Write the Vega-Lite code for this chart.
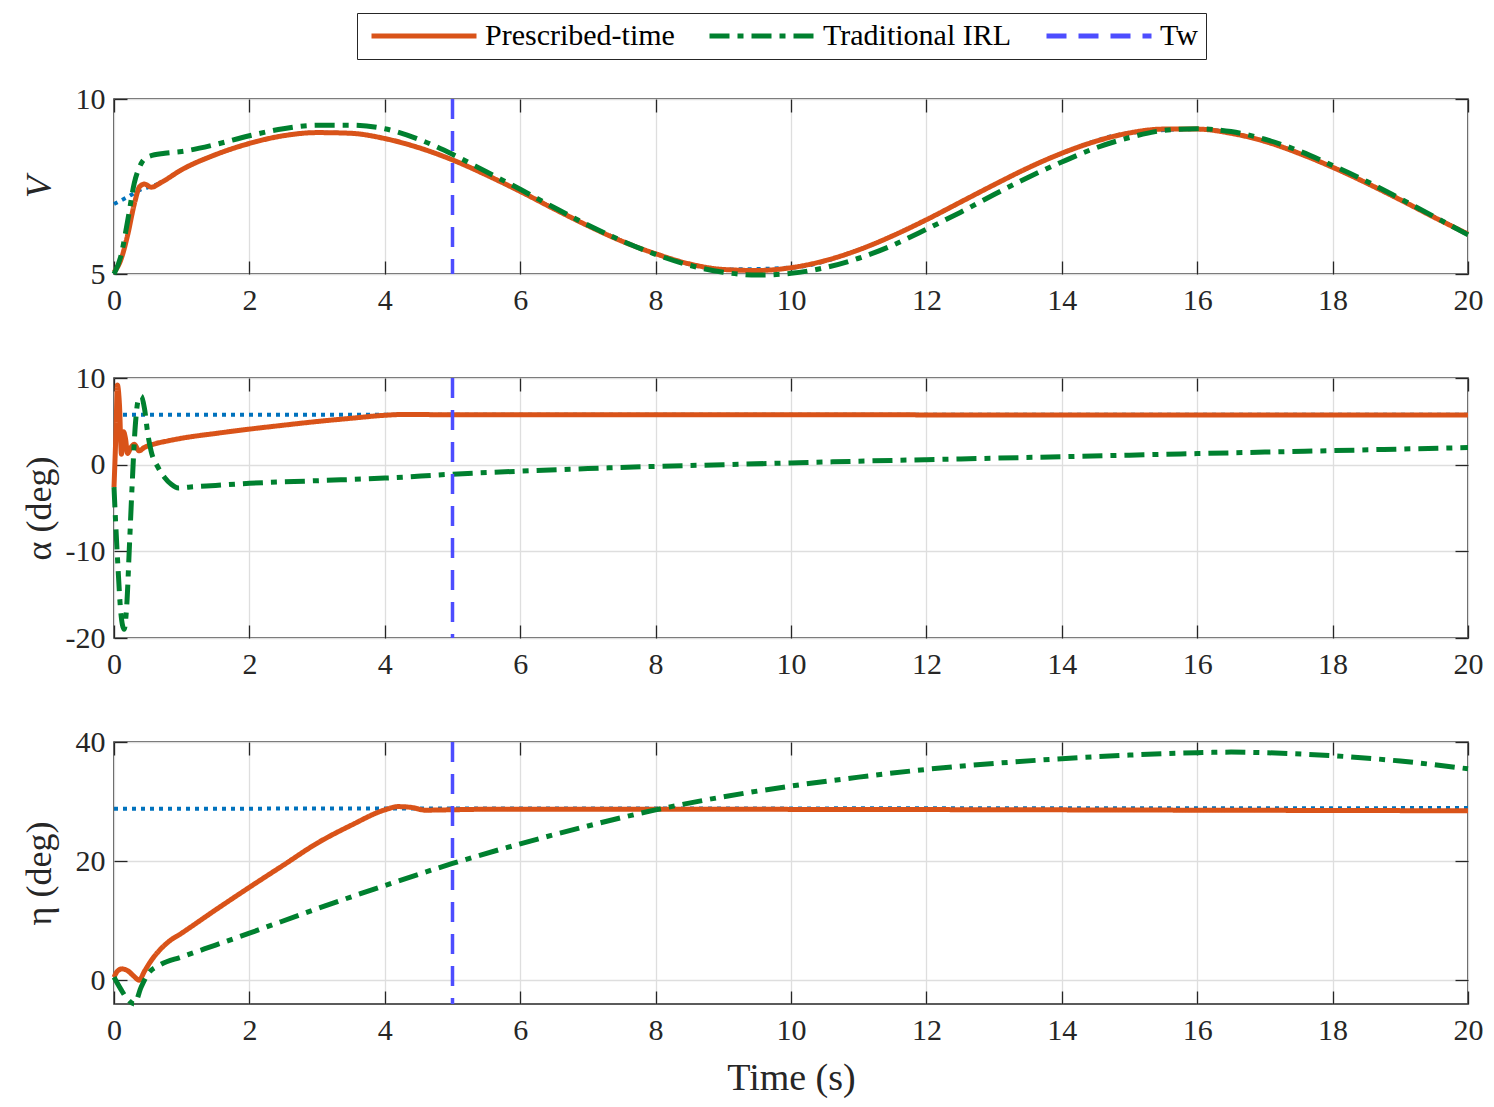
{
  "$schema": "https://vega.github.io/schema/vega-lite/v6.json",
  "padding": {"left": 20, "top": 12, "right": 10, "bottom": 10},
  "bounds": "flush",
  "spacing": 104,
  "config": {
    "font": "Liberation Serif",
    "view": {"stroke": "#262626", "strokeWidth": 1.5},
    "axis": {
      "labelFont": "Liberation Serif",
      "labelFontSize": 30,
      "labelColor": "#262626",
      "labelFlush": false,
      "titleFont": "Liberation Serif",
      "titleFontSize": 36,
      "titleFontWeight": "normal",
      "titleColor": "#262626",
      "tickColor": "#262626",
      "tickSize": -13,
      "tickWidth": 1.3,
      "domain": false,
      "gridColor": "#dedede",
      "gridWidth": 1.3,
      "labelExpr": "'' + datum.value"
    },
    "axisX": {"labelPadding": 24, "labelAngle": 0, "titlePadding": 14},
    "axisY": {"labelPadding": 22, "titlePadding": 6},
    "legend": {
      "orient": "none",
      "legendX": 243,
      "legendY": -86,
      "direction": "horizontal",
      "title": null,
      "symbolType": "M-5,0H5",
      "symbolSize": 441,
      "symbolOffset": 44,
      "symbolStrokeWidth": 5,
      "labelFont": "Liberation Serif",
      "labelFontSize": 30,
      "labelLimit": 500,
      "labelColor": "#000000",
      "labelOffset": 46,
      "columnPadding": 24,
      "padding": 8,
      "strokeColor": "#262626",
      "fillColor": "#ffffff"
    }
  },
  "resolve": {"scale": {"color": "shared", "strokeDash": "shared"}},
  "datasets": {
    "v1": [
      {"t": 0, "y": 5.05, "s": "Prescribed-time"}, {"t": 0.1, "y": 5.4, "s": "Prescribed-time"}, {"t": 0.2, "y": 6.1, "s": "Prescribed-time"}, {"t": 0.3, "y": 7.0, "s": "Prescribed-time"}, {"t": 0.38, "y": 7.5, "s": "Prescribed-time"}, {"t": 0.45, "y": 7.57, "s": "Prescribed-time"}, {"t": 0.55, "y": 7.48, "s": "Prescribed-time"}, {"t": 0.7, "y": 7.62, "s": "Prescribed-time"}, {"t": 1, "y": 7.98, "s": "Prescribed-time"}, {"t": 1.5, "y": 8.41, "s": "Prescribed-time"}, {"t": 2, "y": 8.73, "s": "Prescribed-time"}, {"t": 2.5, "y": 8.95, "s": "Prescribed-time"}, {"t": 3, "y": 9.04, "s": "Prescribed-time"}, {"t": 3.5, "y": 9.02, "s": "Prescribed-time"}, {"t": 4, "y": 8.87, "s": "Prescribed-time"}, {"t": 4.5, "y": 8.61, "s": "Prescribed-time"}, {"t": 5, "y": 8.26, "s": "Prescribed-time"}, {"t": 5.5, "y": 7.83, "s": "Prescribed-time"}, {"t": 6, "y": 7.36, "s": "Prescribed-time"}, {"t": 6.5, "y": 6.86, "s": "Prescribed-time"}, {"t": 7, "y": 6.38, "s": "Prescribed-time"}, {"t": 7.5, "y": 5.94, "s": "Prescribed-time"}, {"t": 8, "y": 5.58, "s": "Prescribed-time"}, {"t": 8.5, "y": 5.29, "s": "Prescribed-time"}, {"t": 9, "y": 5.13, "s": "Prescribed-time"}, {"t": 9.5, "y": 5.1, "s": "Prescribed-time"}, {"t": 10, "y": 5.18, "s": "Prescribed-time"}, {"t": 10.5, "y": 5.38, "s": "Prescribed-time"}, {"t": 11, "y": 5.69, "s": "Prescribed-time"}, {"t": 11.5, "y": 6.09, "s": "Prescribed-time"}, {"t": 12, "y": 6.55, "s": "Prescribed-time"}, {"t": 12.5, "y": 7.05, "s": "Prescribed-time"}, {"t": 13, "y": 7.55, "s": "Prescribed-time"}, {"t": 13.5, "y": 8.03, "s": "Prescribed-time"}, {"t": 14, "y": 8.45, "s": "Prescribed-time"}, {"t": 14.5, "y": 8.79, "s": "Prescribed-time"}, {"t": 15, "y": 9.03, "s": "Prescribed-time"}, {"t": 15.5, "y": 9.14, "s": "Prescribed-time"}, {"t": 16, "y": 9.14, "s": "Prescribed-time"}, {"t": 16.5, "y": 9.02, "s": "Prescribed-time"}, {"t": 17, "y": 8.79, "s": "Prescribed-time"}, {"t": 17.5, "y": 8.45, "s": "Prescribed-time"}, {"t": 18, "y": 8.05, "s": "Prescribed-time"}, {"t": 18.5, "y": 7.6, "s": "Prescribed-time"}, {"t": 19, "y": 7.12, "s": "Prescribed-time"}, {"t": 19.5, "y": 6.62, "s": "Prescribed-time"}, {"t": 20, "y": 6.14, "s": "Prescribed-time"},
      {"t": 0, "y": 5.0, "s": "Traditional IRL"}, {"t": 0.1, "y": 5.5, "s": "Traditional IRL"}, {"t": 0.2, "y": 6.5, "s": "Traditional IRL"}, {"t": 0.3, "y": 7.6, "s": "Traditional IRL"}, {"t": 0.4, "y": 8.15, "s": "Traditional IRL"}, {"t": 0.5, "y": 8.35, "s": "Traditional IRL"}, {"t": 0.75, "y": 8.45, "s": "Traditional IRL"}, {"t": 1, "y": 8.5, "s": "Traditional IRL"}, {"t": 1.5, "y": 8.7, "s": "Traditional IRL"}, {"t": 2, "y": 8.95, "s": "Traditional IRL"}, {"t": 2.5, "y": 9.15, "s": "Traditional IRL"}, {"t": 3, "y": 9.25, "s": "Traditional IRL"}, {"t": 3.5, "y": 9.25, "s": "Traditional IRL"}, {"t": 4, "y": 9.15, "s": "Traditional IRL"}, {"t": 4.5, "y": 8.85, "s": "Traditional IRL"}, {"t": 5, "y": 8.42, "s": "Traditional IRL"}, {"t": 5.5, "y": 7.92, "s": "Traditional IRL"}, {"t": 6, "y": 7.42, "s": "Traditional IRL"}, {"t": 6.5, "y": 6.9, "s": "Traditional IRL"}, {"t": 7, "y": 6.4, "s": "Traditional IRL"}, {"t": 7.5, "y": 5.95, "s": "Traditional IRL"}, {"t": 8, "y": 5.56, "s": "Traditional IRL"}, {"t": 8.5, "y": 5.25, "s": "Traditional IRL"}, {"t": 9, "y": 5.05, "s": "Traditional IRL"}, {"t": 9.5, "y": 4.97, "s": "Traditional IRL"}, {"t": 10, "y": 5.02, "s": "Traditional IRL"}, {"t": 10.5, "y": 5.18, "s": "Traditional IRL"}, {"t": 11, "y": 5.45, "s": "Traditional IRL"}, {"t": 11.5, "y": 5.82, "s": "Traditional IRL"}, {"t": 12, "y": 6.28, "s": "Traditional IRL"}, {"t": 12.5, "y": 6.76, "s": "Traditional IRL"}, {"t": 13, "y": 7.27, "s": "Traditional IRL"}, {"t": 13.5, "y": 7.76, "s": "Traditional IRL"}, {"t": 14, "y": 8.2, "s": "Traditional IRL"}, {"t": 14.5, "y": 8.6, "s": "Traditional IRL"}, {"t": 15, "y": 8.9, "s": "Traditional IRL"}, {"t": 15.5, "y": 9.1, "s": "Traditional IRL"}, {"t": 16, "y": 9.15, "s": "Traditional IRL"}, {"t": 16.5, "y": 9.07, "s": "Traditional IRL"}, {"t": 17, "y": 8.85, "s": "Traditional IRL"}, {"t": 17.5, "y": 8.52, "s": "Traditional IRL"}, {"t": 18, "y": 8.1, "s": "Traditional IRL"}, {"t": 18.5, "y": 7.65, "s": "Traditional IRL"}, {"t": 19, "y": 7.15, "s": "Traditional IRL"}, {"t": 19.5, "y": 6.64, "s": "Traditional IRL"}, {"t": 20, "y": 6.12, "s": "Traditional IRL"},
      {"t": 0, "y": 7.0, "s": "ref"}, {"t": 0.2, "y": 7.2, "s": "ref"}, {"t": 0.4, "y": 7.42, "s": "ref"}, {"t": 0.55, "y": 7.5, "s": "ref"}, {"t": 0.7, "y": 7.62, "s": "ref"}, {"t": 1, "y": 7.98, "s": "ref"}, {"t": 1.5, "y": 8.41, "s": "ref"}, {"t": 2, "y": 8.73, "s": "ref"}, {"t": 2.5, "y": 8.95, "s": "ref"}, {"t": 3, "y": 9.04, "s": "ref"}, {"t": 3.5, "y": 9.02, "s": "ref"}, {"t": 4, "y": 8.87, "s": "ref"}, {"t": 4.5, "y": 8.61, "s": "ref"}, {"t": 5, "y": 8.26, "s": "ref"}, {"t": 6, "y": 7.36, "s": "ref"}, {"t": 7, "y": 6.38, "s": "ref"}, {"t": 8, "y": 5.58, "s": "ref"}, {"t": 9, "y": 5.13, "s": "ref"}, {"t": 10, "y": 5.18, "s": "ref"}, {"t": 11, "y": 5.69, "s": "ref"}, {"t": 12, "y": 6.55, "s": "ref"}, {"t": 13, "y": 7.55, "s": "ref"}, {"t": 14, "y": 8.45, "s": "ref"}, {"t": 15, "y": 9.03, "s": "ref"}, {"t": 16, "y": 9.14, "s": "ref"}, {"t": 17, "y": 8.79, "s": "ref"}, {"t": 18, "y": 8.05, "s": "ref"}, {"t": 19, "y": 7.12, "s": "ref"}, {"t": 20, "y": 6.14, "s": "ref"}
    ],
    "v2": [
      {"t": 0, "y": -2.6, "s": "Prescribed-time"}, {"t": 0.03, "y": 4, "s": "Prescribed-time"}, {"t": 0.05, "y": 9.2, "s": "Prescribed-time"}, {"t": 0.08, "y": 7, "s": "Prescribed-time"}, {"t": 0.11, "y": 1.2, "s": "Prescribed-time"}, {"t": 0.14, "y": 3.8, "s": "Prescribed-time"}, {"t": 0.17, "y": 3.0, "s": "Prescribed-time"}, {"t": 0.2, "y": 1.3, "s": "Prescribed-time"}, {"t": 0.25, "y": 2.0, "s": "Prescribed-time"}, {"t": 0.3, "y": 2.35, "s": "Prescribed-time"}, {"t": 0.37, "y": 1.6, "s": "Prescribed-time"}, {"t": 0.45, "y": 2.0, "s": "Prescribed-time"}, {"t": 0.6, "y": 2.4, "s": "Prescribed-time"}, {"t": 0.8, "y": 2.75, "s": "Prescribed-time"}, {"t": 1, "y": 3.05, "s": "Prescribed-time"}, {"t": 1.5, "y": 3.6, "s": "Prescribed-time"}, {"t": 2, "y": 4.1, "s": "Prescribed-time"}, {"t": 2.5, "y": 4.55, "s": "Prescribed-time"}, {"t": 3, "y": 4.98, "s": "Prescribed-time"}, {"t": 3.5, "y": 5.35, "s": "Prescribed-time"}, {"t": 4, "y": 5.7, "s": "Prescribed-time"}, {"t": 4.3, "y": 5.8, "s": "Prescribed-time"}, {"t": 5, "y": 5.75, "s": "Prescribed-time"}, {"t": 10, "y": 5.75, "s": "Prescribed-time"}, {"t": 15, "y": 5.73, "s": "Prescribed-time"}, {"t": 20, "y": 5.72, "s": "Prescribed-time"},
      {"t": 0, "y": -2.6, "s": "Traditional IRL"}, {"t": 0.02, "y": -6, "s": "Traditional IRL"}, {"t": 0.06, "y": -12, "s": "Traditional IRL"}, {"t": 0.1, "y": -17, "s": "Traditional IRL"}, {"t": 0.15, "y": -19, "s": "Traditional IRL"}, {"t": 0.19, "y": -16, "s": "Traditional IRL"}, {"t": 0.23, "y": -9, "s": "Traditional IRL"}, {"t": 0.27, "y": -2, "s": "Traditional IRL"}, {"t": 0.31, "y": 4, "s": "Traditional IRL"}, {"t": 0.36, "y": 7.5, "s": "Traditional IRL"}, {"t": 0.4, "y": 7.9, "s": "Traditional IRL"}, {"t": 0.45, "y": 6.5, "s": "Traditional IRL"}, {"t": 0.5, "y": 3.5, "s": "Traditional IRL"}, {"t": 0.55, "y": 1.5, "s": "Traditional IRL"}, {"t": 0.65, "y": -0.3, "s": "Traditional IRL"}, {"t": 0.75, "y": -1.5, "s": "Traditional IRL"}, {"t": 0.85, "y": -2.3, "s": "Traditional IRL"}, {"t": 0.95, "y": -2.7, "s": "Traditional IRL"}, {"t": 1.1, "y": -2.6, "s": "Traditional IRL"}, {"t": 1.5, "y": -2.4, "s": "Traditional IRL"}, {"t": 2, "y": -2.15, "s": "Traditional IRL"}, {"t": 3, "y": -1.85, "s": "Traditional IRL"}, {"t": 4, "y": -1.55, "s": "Traditional IRL"}, {"t": 5, "y": -1.1, "s": "Traditional IRL"}, {"t": 6, "y": -0.75, "s": "Traditional IRL"}, {"t": 7, "y": -0.45, "s": "Traditional IRL"}, {"t": 8, "y": -0.2, "s": "Traditional IRL"}, {"t": 9, "y": 0.0, "s": "Traditional IRL"}, {"t": 10, "y": 0.2, "s": "Traditional IRL"}, {"t": 11, "y": 0.4, "s": "Traditional IRL"}, {"t": 12, "y": 0.58, "s": "Traditional IRL"}, {"t": 13, "y": 0.75, "s": "Traditional IRL"}, {"t": 14, "y": 0.92, "s": "Traditional IRL"}, {"t": 15, "y": 1.1, "s": "Traditional IRL"}, {"t": 16, "y": 1.28, "s": "Traditional IRL"}, {"t": 17, "y": 1.45, "s": "Traditional IRL"}, {"t": 18, "y": 1.62, "s": "Traditional IRL"}, {"t": 19, "y": 1.8, "s": "Traditional IRL"}, {"t": 20, "y": 1.97, "s": "Traditional IRL"},
      {"t": 0, "y": 5.75, "s": "ref"}, {"t": 20, "y": 5.75, "s": "ref"}
    ],
    "v3": [
      {"t": 0, "y": 0.5, "s": "Prescribed-time"}, {"t": 0.05, "y": 1.5, "s": "Prescribed-time"}, {"t": 0.12, "y": 1.9, "s": "Prescribed-time"}, {"t": 0.2, "y": 1.6, "s": "Prescribed-time"}, {"t": 0.3, "y": 0.6, "s": "Prescribed-time"}, {"t": 0.37, "y": 0.0, "s": "Prescribed-time"}, {"t": 0.45, "y": 1.5, "s": "Prescribed-time"}, {"t": 0.55, "y": 3.3, "s": "Prescribed-time"}, {"t": 0.67, "y": 5.0, "s": "Prescribed-time"}, {"t": 0.8, "y": 6.4, "s": "Prescribed-time"}, {"t": 1, "y": 7.9, "s": "Prescribed-time"}, {"t": 1.5, "y": 11.8, "s": "Prescribed-time"}, {"t": 2, "y": 15.6, "s": "Prescribed-time"}, {"t": 2.5, "y": 19.3, "s": "Prescribed-time"}, {"t": 3, "y": 23.0, "s": "Prescribed-time"}, {"t": 3.5, "y": 26.0, "s": "Prescribed-time"}, {"t": 4, "y": 28.6, "s": "Prescribed-time"}, {"t": 4.2, "y": 29.15, "s": "Prescribed-time"}, {"t": 4.4, "y": 29.0, "s": "Prescribed-time"}, {"t": 4.6, "y": 28.55, "s": "Prescribed-time"}, {"t": 4.9, "y": 28.6, "s": "Prescribed-time"}, {"t": 5.5, "y": 28.7, "s": "Prescribed-time"}, {"t": 8, "y": 28.7, "s": "Prescribed-time"}, {"t": 12, "y": 28.65, "s": "Prescribed-time"}, {"t": 16, "y": 28.55, "s": "Prescribed-time"}, {"t": 20, "y": 28.45, "s": "Prescribed-time"},
      {"t": 0, "y": 0.5, "s": "Traditional IRL"}, {"t": 0.1, "y": -1.5, "s": "Traditional IRL"}, {"t": 0.2, "y": -3.2, "s": "Traditional IRL"}, {"t": 0.3, "y": -4.0, "s": "Traditional IRL"}, {"t": 0.4, "y": -1.2, "s": "Traditional IRL"}, {"t": 0.5, "y": 1.0, "s": "Traditional IRL"}, {"t": 0.67, "y": 2.5, "s": "Traditional IRL"}, {"t": 1, "y": 3.9, "s": "Traditional IRL"}, {"t": 1.5, "y": 5.9, "s": "Traditional IRL"}, {"t": 2, "y": 7.9, "s": "Traditional IRL"}, {"t": 3, "y": 12.0, "s": "Traditional IRL"}, {"t": 4, "y": 15.9, "s": "Traditional IRL"}, {"t": 5, "y": 19.6, "s": "Traditional IRL"}, {"t": 6, "y": 22.9, "s": "Traditional IRL"}, {"t": 7, "y": 25.9, "s": "Traditional IRL"}, {"t": 8, "y": 28.6, "s": "Traditional IRL"}, {"t": 9, "y": 30.8, "s": "Traditional IRL"}, {"t": 10, "y": 32.6, "s": "Traditional IRL"}, {"t": 11, "y": 34.1, "s": "Traditional IRL"}, {"t": 12, "y": 35.4, "s": "Traditional IRL"}, {"t": 13, "y": 36.4, "s": "Traditional IRL"}, {"t": 14, "y": 37.2, "s": "Traditional IRL"}, {"t": 15, "y": 37.8, "s": "Traditional IRL"}, {"t": 16, "y": 38.2, "s": "Traditional IRL"}, {"t": 16.5, "y": 38.3, "s": "Traditional IRL"}, {"t": 17, "y": 38.2, "s": "Traditional IRL"}, {"t": 18, "y": 37.7, "s": "Traditional IRL"}, {"t": 19, "y": 36.8, "s": "Traditional IRL"}, {"t": 20, "y": 35.5, "s": "Traditional IRL"},
      {"t": 0, "y": 28.8, "s": "ref"}, {"t": 20, "y": 28.9, "s": "ref"}
    ],
    "tw": [{"t": 5, "s": "Tw"}]
  },
  "vconcat": [
    {
      "width": 1354,
      "height": 175,
      "data": {"name": "v1"},
      "layer": [
        {
          "transform": [{"filter": "datum.s === 'ref'"}],
          "mark": {"type": "line", "color": "#0072BD", "strokeWidth": 4, "strokeDash": [4, 5], "interpolate": "monotone"},
          "encoding": {
            "x": {"field": "t", "type": "quantitative", "scale": {"domain": [0, 20], "nice": false}, "axis": {"values": [0, 2, 4, 6, 8, 10, 12, 14, 16, 18, 20], "grid": true, "title": null}},
            "y": {"field": "y", "type": "quantitative", "scale": {"domain": [5, 10], "nice": false, "zero": false}, "axis": {"values": [5, 10], "grid": true, "title": "V", "titleFontStyle": "italic", "minExtent": 50, "maxExtent": 50}}
          }
        },
        {
          "transform": [{"filter": "datum.s !== 'ref'"}],
          "mark": {"type": "line", "strokeWidth": 5, "interpolate": "monotone"},
          "encoding": {
            "x": {"field": "t", "type": "quantitative", "axis": null},
            "y": {"field": "y", "type": "quantitative", "axis": null},
            "color": {"field": "s", "type": "nominal", "scale": {"domain": ["Prescribed-time", "Traditional IRL", "Tw"], "range": ["#D95319", "#00802F", "#4D4DFF"]}},
            "strokeDash": {"field": "s", "type": "nominal", "scale": {"domain": ["Prescribed-time", "Traditional IRL", "Tw"], "range": [[1, 0], [20, 8, 6, 8], [20, 12]]}}
          }
        },
        {
          "data": {"name": "tw"},
          "mark": {"type": "rule", "strokeWidth": 3.5},
          "encoding": {
            "x": {"field": "t", "type": "quantitative", "axis": null},
            "color": {"field": "s", "type": "nominal"},
            "strokeDash": {"field": "s", "type": "nominal"}
          }
        },
        {
          "transform": [{"filter": "datum.s === 'ref'"}],
          "mark": {"type": "line", "opacity": 0},
          "encoding": {
            "x": {"field": "t", "type": "quantitative", "axis": {"orient": "top", "values": [0, 2, 4, 6, 8, 10, 12, 14, 16, 18, 20], "labels": false, "grid": false, "title": null}},
            "y": {"field": "y", "type": "quantitative", "axis": {"orient": "right", "values": [5, 10], "labels": false, "grid": false, "title": null}}
          }
        }
      ],
      "resolve": {"axis": {"x": "independent", "y": "independent"}}
    },
    {
      "width": 1354,
      "height": 260,
      "data": {"name": "v2"},
      "layer": [
        {
          "transform": [{"filter": "datum.s === 'ref'"}],
          "mark": {"type": "line", "color": "#0072BD", "strokeWidth": 4, "strokeDash": [4, 5]},
          "encoding": {
            "x": {"field": "t", "type": "quantitative", "scale": {"domain": [0, 20], "nice": false}, "axis": {"values": [0, 2, 4, 6, 8, 10, 12, 14, 16, 18, 20], "grid": true, "title": null}},
            "y": {"field": "y", "type": "quantitative", "scale": {"domain": [-20, 10], "nice": false, "zero": false}, "axis": {"values": [-20, -10, 0, 10], "grid": true, "title": "α (deg)", "minExtent": 50, "maxExtent": 50}}
          }
        },
        {
          "transform": [{"filter": "datum.s !== 'ref'"}],
          "mark": {"type": "line", "strokeWidth": 5, "interpolate": "monotone"},
          "encoding": {
            "x": {"field": "t", "type": "quantitative", "axis": null},
            "y": {"field": "y", "type": "quantitative", "axis": null},
            "color": {"field": "s", "type": "nominal"},
            "strokeDash": {"field": "s", "type": "nominal"}
          }
        },
        {
          "data": {"name": "tw"},
          "mark": {"type": "rule", "strokeWidth": 3.5},
          "encoding": {
            "x": {"field": "t", "type": "quantitative", "axis": null},
            "color": {"field": "s", "type": "nominal"},
            "strokeDash": {"field": "s", "type": "nominal"}
          }
        },
        {
          "transform": [{"filter": "datum.s === 'ref'"}],
          "mark": {"type": "line", "opacity": 0},
          "encoding": {
            "x": {"field": "t", "type": "quantitative", "axis": {"orient": "top", "values": [0, 2, 4, 6, 8, 10, 12, 14, 16, 18, 20], "labels": false, "grid": false, "title": null}},
            "y": {"field": "y", "type": "quantitative", "axis": {"orient": "right", "values": [-20, -10, 0, 10], "labels": false, "grid": false, "title": null}}
          }
        }
      ],
      "resolve": {"axis": {"x": "independent", "y": "independent"}}
    },
    {
      "width": 1354,
      "height": 262,
      "data": {"name": "v3"},
      "layer": [
        {
          "transform": [{"filter": "datum.s === 'ref'"}],
          "mark": {"type": "line", "color": "#0072BD", "strokeWidth": 4, "strokeDash": [4, 5]},
          "encoding": {
            "x": {"field": "t", "type": "quantitative", "scale": {"domain": [0, 20], "nice": false}, "axis": {"values": [0, 2, 4, 6, 8, 10, 12, 14, 16, 18, 20], "grid": true, "title": "Time (s)", "titleFontSize": 38}},
            "y": {"field": "y", "type": "quantitative", "scale": {"domain": [-4, 40], "nice": false, "zero": false}, "axis": {"values": [0, 20, 40], "grid": true, "title": "η (deg)", "minExtent": 50, "maxExtent": 50}}
          }
        },
        {
          "transform": [{"filter": "datum.s !== 'ref'"}],
          "mark": {"type": "line", "strokeWidth": 5, "interpolate": "monotone"},
          "encoding": {
            "x": {"field": "t", "type": "quantitative", "axis": null},
            "y": {"field": "y", "type": "quantitative", "axis": null},
            "color": {"field": "s", "type": "nominal"},
            "strokeDash": {"field": "s", "type": "nominal"}
          }
        },
        {
          "data": {"name": "tw"},
          "mark": {"type": "rule", "strokeWidth": 3.5},
          "encoding": {
            "x": {"field": "t", "type": "quantitative", "axis": null},
            "color": {"field": "s", "type": "nominal"},
            "strokeDash": {"field": "s", "type": "nominal"}
          }
        },
        {
          "transform": [{"filter": "datum.s === 'ref'"}],
          "mark": {"type": "line", "opacity": 0},
          "encoding": {
            "x": {"field": "t", "type": "quantitative", "axis": {"orient": "top", "values": [0, 2, 4, 6, 8, 10, 12, 14, 16, 18, 20], "labels": false, "grid": false, "title": null}},
            "y": {"field": "y", "type": "quantitative", "axis": {"orient": "right", "values": [0, 20, 40], "labels": false, "grid": false, "title": null}}
          }
        }
      ],
      "resolve": {"axis": {"x": "independent", "y": "independent"}}
    }
  ]
}
